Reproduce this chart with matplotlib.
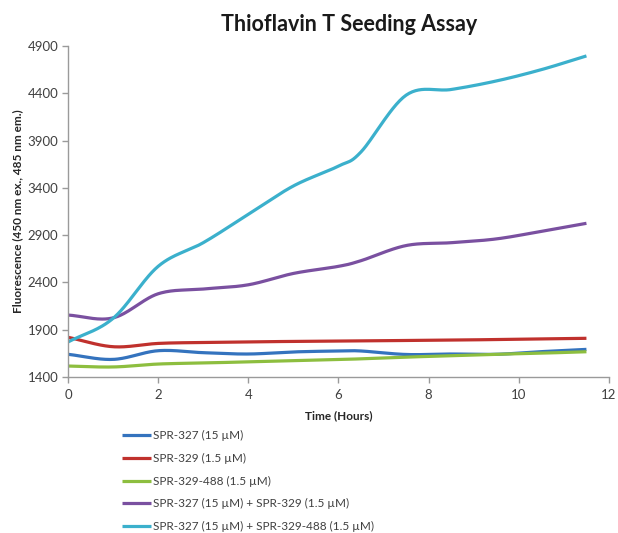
import numpy as np
import matplotlib
matplotlib.use("Agg")
import matplotlib.pyplot as plt

plt.rcParams['font.family'] = ['Lato', 'DejaVu Sans']

time_h = [0, 1, 2, 3, 4, 5, 6, 6.5, 7.5, 8.5, 9.5, 10.5, 11.5]
spr327 = [1640, 1586, 1678, 1657, 1643, 1665, 1675, 1675, 1638, 1643, 1640, 1668, 1692]
spr329 = [1820, 1720, 1755, 1765, 1772, 1776, 1780, 1782, 1786, 1790, 1796, 1802, 1809]
spr329_488 = [1516, 1506, 1537, 1548, 1560, 1572, 1585, 1592, 1610, 1625, 1640, 1652, 1667]
spr327_329 = [2055, 2025, 2280, 2330, 2375, 2495, 2570, 2630, 2790, 2820, 2860, 2940, 3025]
spr327_329_488 = [1770, 2020, 2570, 2820, 3120, 3420, 3630, 3780, 4380, 4440, 4530, 4650, 4795]

labels = ["SPR-327 (15 µM)", "SPR-329 (1.5 µM)", "SPR-329-488 (1.5 µM)",
          "SPR-327 (15 µM) + SPR-329 (1.5 µM)",
          "SPR-327 (15 µM) + SPR-329-488 (1.5 µM)"]
colors = ["#3473BE", "#C0312D", "#8DBE3F", "#7A50A0", "#3BB0CC"]
series = [spr327, spr329, spr329_488, spr327_329, spr327_329_488]


def smooth(x, y, n=30):
    # Catmull-Rom style smoothing (like Excel smoothed lines)
    x = np.asarray(x, float); y = np.asarray(y, float)
    px = np.concatenate([[2*x[0]-x[1]], x, [2*x[-1]-x[-2]]])
    py = np.concatenate([[2*y[0]-y[1]], y, [2*y[-1]-y[-2]]])
    xs, ys = [], []
    for i in range(1, len(px)-2):
        p0 = np.array([px[i-1], py[i-1]]); p1 = np.array([px[i], py[i]])
        p2 = np.array([px[i+1], py[i+1]]); p3 = np.array([px[i+2], py[i+2]])
        c1 = p1 + (p2 - p0) / 6.0
        c2 = p2 - (p3 - p1) / 6.0
        t = np.linspace(0, 1, n)[:, None]
        b = ((1-t)**3)*p1 + 3*((1-t)**2)*t*c1 + 3*(1-t)*t**2*c2 + t**3*p2
        xs.append(b[:, 0]); ys.append(b[:, 1])
    return np.concatenate(xs), np.concatenate(ys)


fig = plt.figure(figsize=(6.18, 5.33), dpi=100)
ax = fig.add_axes([0.110, 0.2927, 0.8754, 0.621])

for s, c, lab in zip(series, colors, labels):
    sx, sy = smooth(time_h, s)
    ax.plot(sx, sy, color=c, lw=2.3, label=lab, solid_capstyle='butt')

ax.set_xlim(0, 12)
ax.set_ylim(1400, 4900)
ax.set_xticks([0, 2, 4, 6, 8, 10, 12])
ax.set_yticks([1400, 1900, 2400, 2900, 3400, 3900, 4400, 4900])
for sp in ['top', 'right']:
    ax.spines[sp].set_visible(False)
for sp in ['left', 'bottom']:
    ax.spines[sp].set_color('#9A9A9A')
    ax.spines[sp].set_linewidth(1.0)
ax.tick_params(axis='both', colors='#9A9A9A', length=4, width=1.0,
               labelcolor='#404040', labelsize=9.5)
ax.tick_params(axis='x', pad=5)
ax.tick_params(axis='y', pad=3)

ax.set_title("Thioflavin T Seeding Assay", fontsize=15.5, fontweight='bold',
             color='#1a1a1a', pad=11, x=0.52)
ax.set_xlabel("Time (Hours)", fontsize=8.5, fontweight='bold', color='#262626', labelpad=6)
ax.set_ylabel("Fluorescence (450 nm ex., 485 nm em.)", fontsize=8.5,
              fontweight='bold', color='#262626', labelpad=3)

leg = ax.legend(loc='upper left', bbox_to_anchor=(0.092, -0.147), frameon=False,
                fontsize=8.5, handlelength=2.4, handletextpad=0.15,
                labelspacing=0.98, borderaxespad=0)
for t in leg.get_texts():
    t.set_color('#404040')

fig.savefig("out.png", dpi=100)
